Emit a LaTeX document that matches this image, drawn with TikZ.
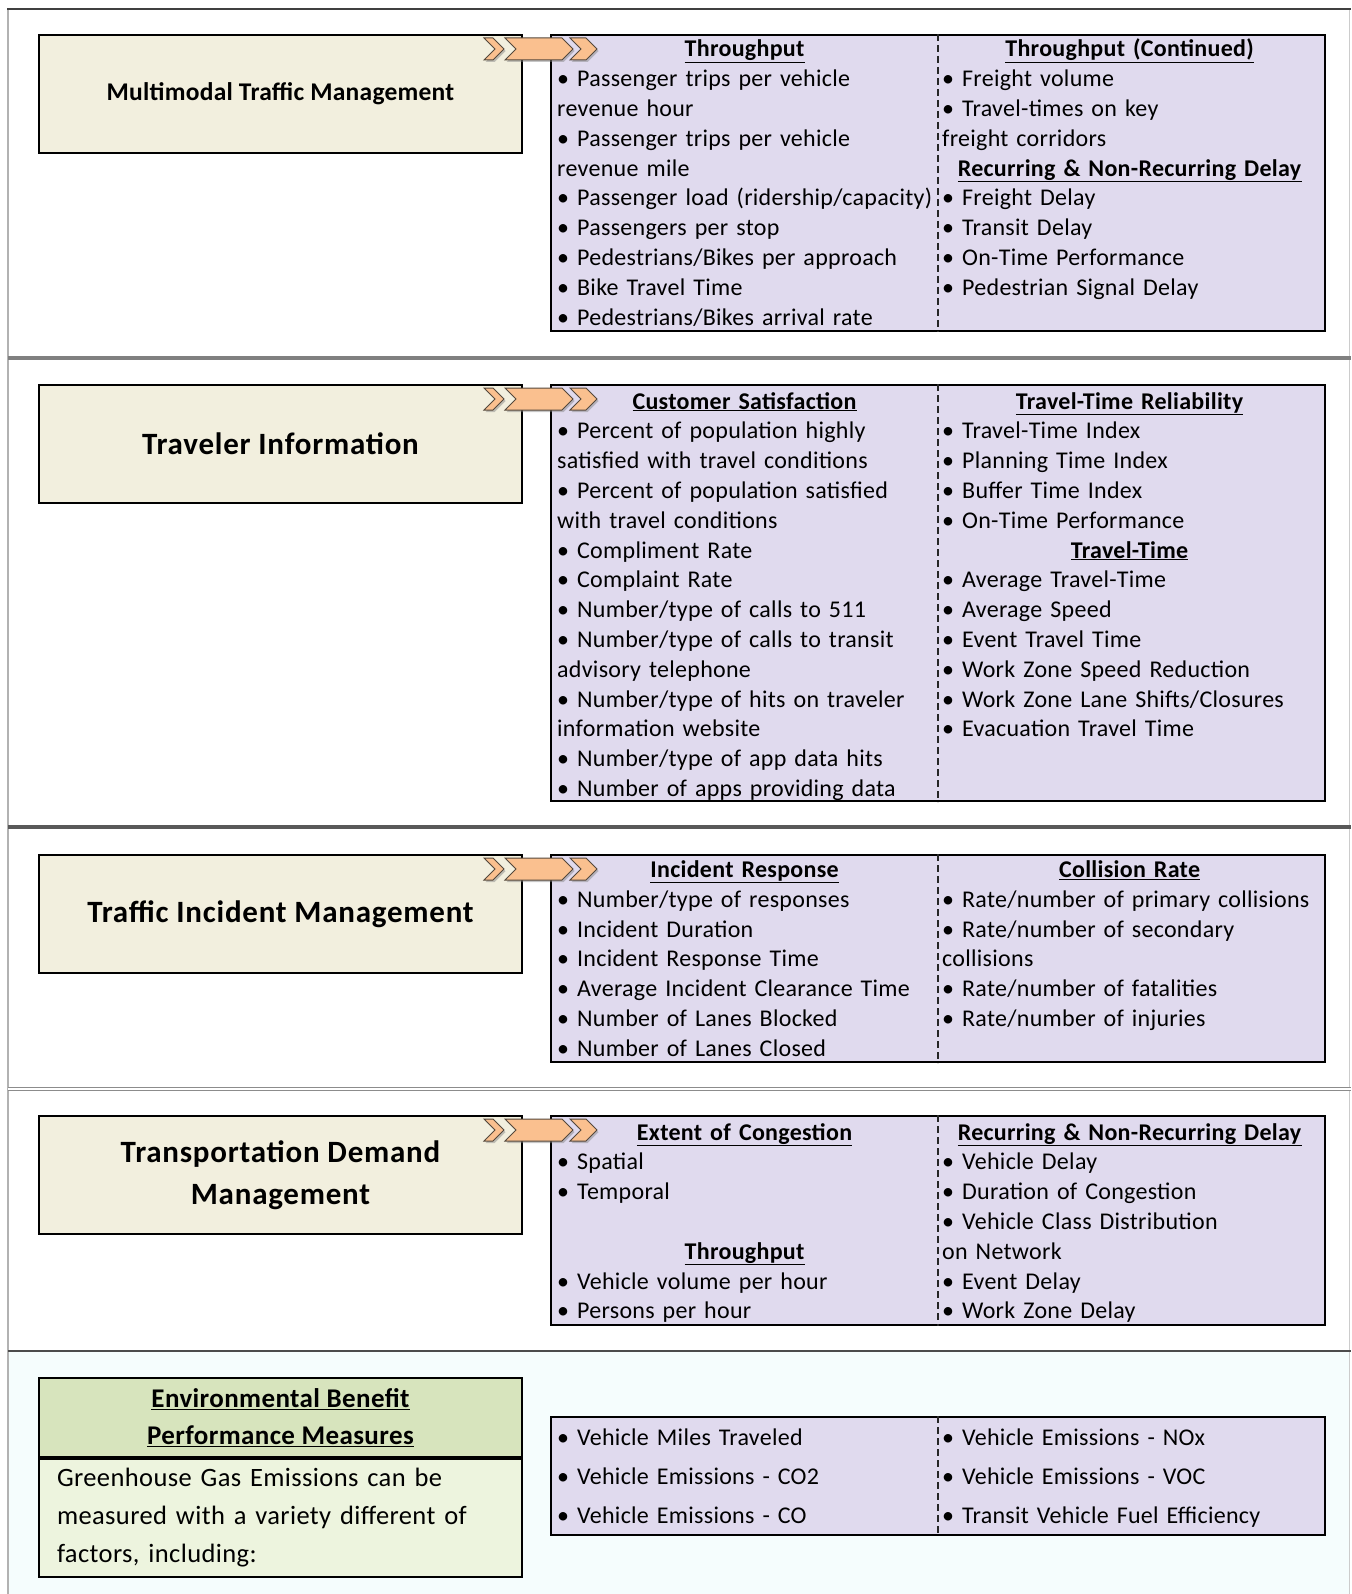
\documentclass[tikz,border=0pt]{standalone}
\usepackage{fontspec}
\setmainfont{Carlito}
\usetikzlibrary{shadows}
\setlength{\parindent}{0pt}

\definecolor{titlefill}{RGB}{242,239,222}
\definecolor{pmfill}{RGB}{224,218,238}
\definecolor{envhead}{RGB}{215,228,189}
\definecolor{envbody}{RGB}{237,244,222}
\definecolor{chevfill}{RGB}{250,192,143}
\definecolor{chevline}{RGB}{85,72,60}
\definecolor{envback}{RGB}{245,253,253}

\newcommand{\pmhead}[1]{\makebox[375pt][c]{\underline{\textbf{#1}}}}
\newcommand{\chevron}[2]{\draw[chev] (#1,4) -- ++(#2-11,0) -- ++(11,11) -- ++(-11,11) -- ++(11-#2,0) -- ++(11,-11) -- cycle;}

\tikzset{
	titlebox/.style={draw=black, line width=2pt, fill=titlefill, anchor=north west, minimum width=483pt, minimum height=118pt, inner sep=0pt, align=center, font=\bfseries\fontsize{31}{42}\selectfont\addfontfeature{LetterSpace=2.5}},
	pmbox/.style={draw=black, line width=2pt, fill=pmfill, anchor=north west, minimum width=774pt, inner sep=0pt},
	colsep/.style={line width=1.6pt, black!85, dash pattern=on 7pt off 4pt},
	pmcol/.style={anchor=base west, text width=420pt, align=left, inner sep=0pt, font=\fontsize{24}{29.8}\selectfont\addfontfeature{LetterSpace=1.2}},
	chev/.style={fill=chevfill, draw=chevline, line width=1pt, line join=miter, drop shadow={opacity=0.45, shadow xshift=1.5pt, shadow yshift=-2pt}}
}

\begin{document}
\begin{tikzpicture}[x=1pt, y=-1pt]
	\useasboundingbox (0,0) rectangle (1351,1594);

	% frame and section rules
	\fill[envback] (9,1352) rectangle (1349,1594);
	\draw[line width=1.5pt, black!30] (8,9) -- (8,1594);
	\draw[line width=1.5pt, black!20] (1349.5,9) -- (1349.5,1594);
	\draw[line width=2pt, black!75] (7,9) -- (1351,9);
	\draw[line width=4pt, black!50] (8,358) -- (1351,358);
	\draw[line width=4pt, black!65] (8,827) -- (1351,827);
	\draw[line width=1.2pt, black!45, double, double distance=2pt] (8,1089) -- (1351,1089);
	\draw[line width=2pt, black!70] (8,1351) -- (1351,1351);

	% strategy boxes
	\node[titlebox, font=\bfseries\fontsize{25.5}{30}\selectfont\addfontfeature{LetterSpace=1}] (mtm) at (38,34) {\raisebox{-3pt}{Multimodal Traffic Management}};
	\node[titlebox] (ti) at (38,384) {Traveler Information};
	\node[titlebox] (tim) at (38,854) {Traffic Incident Management};
	\node[titlebox] (tdm) at (38,1115) {Transportation Demand\\Management};

	% measure boxes
	\node[pmbox, minimum height=296pt] (mtmPM) at (550,34) {};
	\node[pmbox, minimum height=416pt] (tiPM) at (550,384) {};
	\node[pmbox, minimum height=207pt] (timPM) at (550,854) {};
	\node[pmbox, minimum height=209pt] (tdmPM) at (550,1115) {};
	\node[pmbox, minimum height=118pt] (envPM) at (550,1416) {};
	\foreach \bx in {mtmPM,tiPM,timPM,tdmPM,envPM}
		\draw[colsep] (\bx.north) -- (\bx.south);

	% chevron arrows
	\foreach \bx in {mtm,ti,tim,tdm} {
		\begin{scope}[shift={(\bx.north east)}]
			\chevron{-39}{20}
			\chevron{-18}{68}
			\chevron{47}{27}
		\end{scope}
	}

	% measures
	\node[pmcol] (mtmL) at (557,57) {\pmhead{Throughput}\\
		• Passenger trips per vehicle\\ revenue hour\\
		• Passenger trips per vehicle\\ revenue mile\\
		• Passenger load (ridership/capacity)\\
		• Passengers per stop\\
		• Pedestrians/Bikes per approach\\
		• Bike Travel Time\\
		• Pedestrians/Bikes arrival rate};
	\node[pmcol] (mtmR) at (942,57) {\pmhead{Throughput (Continued)}\\
		• Freight volume\\
		• Travel-times on key\\ freight corridors\\
		\pmhead{Recurring \& Non-Recurring Delay}\\
		• Freight Delay\\
		• Transit Delay\\
		• On-Time Performance\\
		• Pedestrian Signal Delay};

	\node[pmcol] (tiL) at (557,409) {\pmhead{Customer Satisfaction}\\
		• Percent of population highly\\ satisfied with travel conditions\\
		• Percent of population satisfied\\ with travel conditions\\
		• Compliment Rate\\
		• Complaint Rate\\
		• Number/type of calls to 511\\
		• Number/type of calls to transit\\ advisory telephone\\
		• Number/type of hits on traveler\\ information website\\
		• Number/type of app data hits\\
		• Number of apps providing data};
	\node[pmcol] (tiR) at (942,409) {\pmhead{Travel-Time Reliability}\\
		• Travel-Time Index\\
		• Planning Time Index\\
		• Buffer Time Index\\
		• On-Time Performance\\
		\pmhead{Travel-Time}\\
		• Average Travel-Time\\
		• Average Speed\\
		• Event Travel Time\\
		• Work Zone Speed Reduction\\
		• Work Zone Lane Shifts/Closures\\
		• Evacuation Travel Time};

	\node[pmcol] (timL) at (557,877.5) {\pmhead{Incident Response}\\
		• Number/type of responses\\
		• Incident Duration\\
		• Incident Response Time\\
		• Average Incident Clearance Time\\
		• Number of Lanes Blocked\\
		• Number of Lanes Closed};
	\node[pmcol] (timR) at (942,877.5) {\pmhead{Collision Rate}\\
		• Rate/number of primary collisions\\
		• Rate/number of secondary\\ collisions\\
		• Rate/number of fatalities\\
		• Rate/number of injuries};

	\node[pmcol] (tdmL) at (557,1140) {\pmhead{Extent of Congestion}\\
		• Spatial\\
		• Temporal\\ \mbox{}\\
		\pmhead{Throughput}\\
		• Vehicle volume per hour\\
		• Persons per hour};
	\node[pmcol] (tdmR) at (942,1140) {\pmhead{Recurring \& Non-Recurring Delay}\\
		• Vehicle Delay\\
		• Duration of Congestion\\
		• Vehicle Class Distribution\\ on Network\\
		• Event Delay\\
		• Work Zone Delay};

	% environmental benefit
	\node[titlebox, fill=envhead, minimum height=79pt, font=\bfseries\fontsize{27}{36.5}\selectfont\addfontfeature{LetterSpace=1.5}] (envH) at (38,1377)
		{\underline{Environmental Benefit}\\ \underline{Performance Measures}};
	\node[titlebox, fill=envbody, anchor=north, minimum height=118pt, text width=447pt, inner xsep=18pt, align=left, font=\fontsize{26.5}{38}\selectfont\addfontfeature{LetterSpace=1.5}] (envB) at (envH.south)
		{Greenhouse Gas Emissions can be\\ measured with a variety different of\\ factors, including:};
	\node[pmcol, font=\fontsize{24}{39}\selectfont\addfontfeature{LetterSpace=1.2}] (envL) at (557,1445) {• Vehicle Miles Traveled\\
		• Vehicle Emissions - CO2\\
		• Vehicle Emissions - CO};
	\node[pmcol, font=\fontsize{24}{39}\selectfont\addfontfeature{LetterSpace=1.2}] (envR) at (942,1445) {• Vehicle Emissions - NOx\\
		• Vehicle Emissions - VOC\\
		• Transit Vehicle Fuel Efficiency};

\end{tikzpicture}
\end{document}
